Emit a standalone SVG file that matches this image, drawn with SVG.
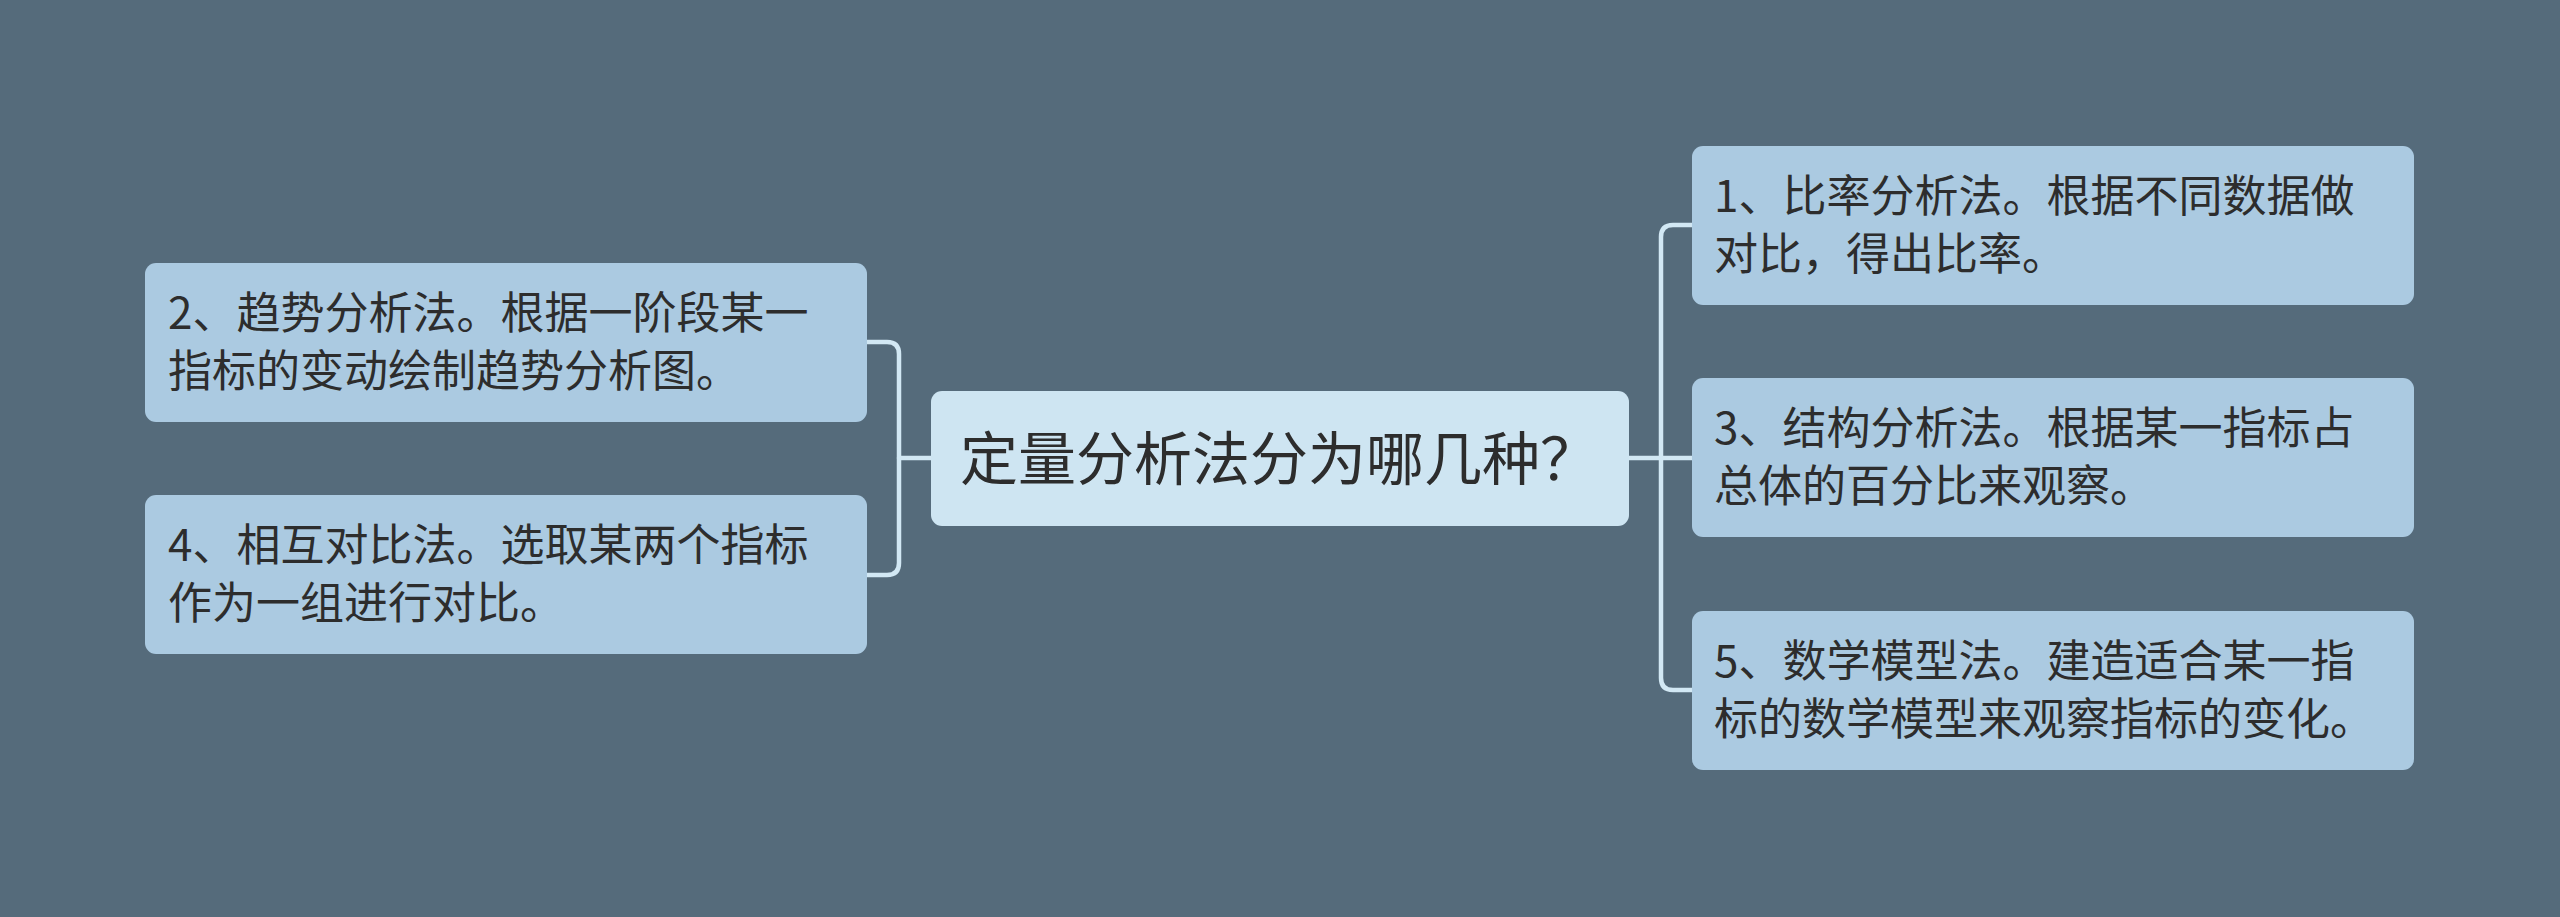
<svg xmlns="http://www.w3.org/2000/svg" width="2560" height="917" viewBox="0 0 2560 917">
<style>
.bg{fill:#556b7b}
.node{fill:#abcae1}
.root{fill:#cee5f2}
.t{font-family:"Noto Sans CJK SC","Noto Sans",sans-serif;font-size:44px;fill:#2d2d2d}
.rt{font-family:"Noto Sans CJK SC","Noto Sans",sans-serif;font-size:58px;fill:#2d2d2d}
.c{fill:none;stroke:#d2e8f4;stroke-width:4.5;stroke-linecap:round;stroke-linejoin:round}
</style>
<rect class="bg" x="0" y="0" width="2560" height="917"/>
<g id="connectors">
<path class="c" d="M867,342 H887 Q899,342 899,354 V563 Q899,575 887,575 H867"/>
<path class="c" d="M899,458 H931"/>
<path class="c" d="M1692,225 H1673 Q1661,225 1661,237 V678 Q1661,690 1673,690 H1692"/>
<path class="c" d="M1629,458 H1692"/>
</g>
<g id="root">
<rect class="root" x="931" y="391" width="698" height="135" rx="11"/>
<text class="rt" x="960" y="480">定量分析法分为哪几种？</text>
</g>
<g id="n2">
<rect class="node" x="145" y="263" width="722" height="159" rx="11"/>
<text class="t" x="168" y="329">2、趋势分析法。根据一阶段某一</text>
<text class="t" x="168" y="387">指标的变动绘制趋势分析图。</text>
</g>
<g id="n4">
<rect class="node" x="145" y="495" width="722" height="159" rx="11"/>
<text class="t" x="168" y="561">4、相互对比法。选取某两个指标</text>
<text class="t" x="168" y="619">作为一组进行对比。</text>
</g>
<g id="n1">
<rect class="node" x="1692" y="146" width="722" height="159" rx="11"/>
<text class="t" x="1714" y="212">1、比率分析法。根据不同数据做</text>
<text class="t" x="1714" y="270">对比，得出比率。</text>
</g>
<g id="n3">
<rect class="node" x="1692" y="378" width="722" height="159" rx="11"/>
<text class="t" x="1714" y="444">3、结构分析法。根据某一指标占</text>
<text class="t" x="1714" y="502">总体的百分比来观察。</text>
</g>
<g id="n5">
<rect class="node" x="1692" y="611" width="722" height="159" rx="11"/>
<text class="t" x="1714" y="677">5、数学模型法。建造适合某一指</text>
<text class="t" x="1714" y="735">标的数学模型来观察指标的变化。</text>
</g>
</svg>
